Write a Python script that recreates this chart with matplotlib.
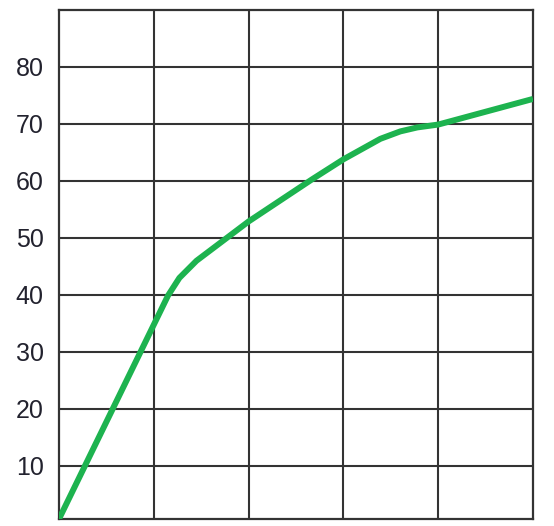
import matplotlib
matplotlib.use("Agg")
import matplotlib.pyplot as plt

x_values = [0, 1.15, 1.27, 1.45, 2.0, 2.67, 3.0, 3.39, 3.6, 3.78, 4.0, 5.0]
y_values = [0.7, 39.9, 43.0, 46.0, 52.9, 60.3, 63.8, 67.4, 68.7, 69.4, 69.9, 74.4]
y_ticks = [10, 20, 30, 40, 50, 60, 70, 80]
x_grid = [1, 2, 3, 4]

plt.rcParams['font.family'] = ['Liberation Sans', 'DejaVu Sans']

fig = plt.figure(figsize=(5.54, 5.26), dpi=100)
ax = fig.add_axes([59/554, 7/526, (533-59)/554, (519-10)/526])

ax.plot(x_values, y_values, color='#1db34f', lw=4.3, solid_joinstyle='round',
        solid_capstyle='butt', zorder=3)

ax.set_xlim(0, 5)
ax.set_ylim(0.7, 90)
ax.set_yticks(y_ticks)
ax.set_yticklabels([str(t) for t in y_ticks])
ax.set_xticks(x_grid)
ax.set_xticklabels([])
ax.tick_params(axis='both', length=0)
ax.tick_params(axis='y', pad=11, labelsize=18, labelcolor='#22222e')
ax.grid(True, color='#333333', lw=1.5)
for s in ax.spines.values():
    s.set_color('#333333')
    s.set_linewidth(1.6)

fig.savefig('out.png', dpi=100)
